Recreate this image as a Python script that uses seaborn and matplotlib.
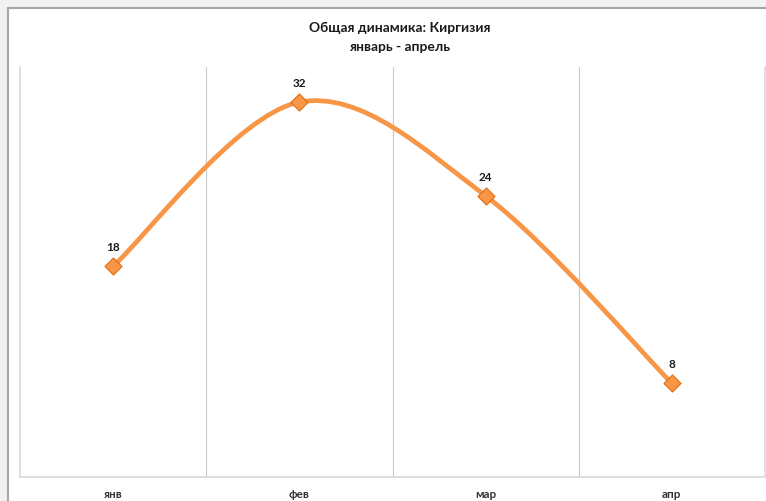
import matplotlib
matplotlib.use("Agg")
import matplotlib.pyplot as plt
import pandas as pd
import seaborn as sns
from matplotlib.path import Path
from matplotlib.patches import PathPatch, Rectangle

# данные с графика
months = ["янв", "фев", "мар", "апр"]
values = [18, 32, 24, 8]
title_lines = ["Общая динамика: Киргизия", "январь - апрель"]

orange = "#f79646"
orange_dark = "#e46c0a"

sns.set_theme(style="white")
plt.rcParams["font.family"] = ["Lato", "DejaVu Sans"]

df = pd.DataFrame({"month": months, "value": values})

fig = plt.figure(figsize=(7.66, 5.02), dpi=100, facecolor="#f2f2f2")
# рамка области диаграммы (как в Excel)
fig.patches.append(
    Rectangle((8 / 766, -0.05), 1.1, 1.05 - 9 / 502, transform=fig.transFigure,
              facecolor="white", edgecolor="#a6a6a6", linewidth=1.5, zorder=-5)
)

ax = fig.add_axes([20 / 766, 1 - 478 / 502, 745 / 766, (478 - 68) / 502])
ax.set_facecolor("white")

# сглаженная линия (кривые Безье через точки, как "сглаженная линия" в Excel)
pts = list(enumerate(values))
ext = [pts[0]] + pts + [pts[-1]]
verts = [pts[0]]
codes = [Path.MOVETO]
for i in range(1, len(ext) - 2):
    p0, p1, p2, p3 = ext[i - 1], ext[i], ext[i + 1], ext[i + 2]
    c1 = (p1[0] + (p2[0] - p0[0]) / 6, p1[1] + (p2[1] - p0[1]) / 6)
    c2 = (p2[0] - (p3[0] - p1[0]) / 6, p2[1] - (p3[1] - p1[1]) / 6)
    verts += [c1, c2, p2]
    codes += [Path.CURVE4] * 3
ax.add_patch(PathPatch(Path(verts, codes), facecolor="none", edgecolor=orange,
                       linewidth=3.4, capstyle="round", zorder=3))

sns.scatterplot(data=df, x="month", y="value", marker="D", s=75, color=orange,
                edgecolor=orange_dark, linewidth=0.8, zorder=4, ax=ax, legend=False)

for i, v in enumerate(values):
    ax.annotate(str(v), (i, v), xytext=(0, 14), textcoords="offset points",
                ha="center", va="center", fontsize=8.5, fontweight="bold", color="#1a1a1a")

# вертикальные линии между категориями
for x in [0.5, 1.5, 2.5]:
    ax.axvline(x, color="#c8c8c8", linewidth=0.8, zorder=1)

ax.set_xlim(-0.5, 3.5)
ax.set_ylim(0, 35)
ax.set_yticks([])
ax.set_xticks(range(len(months)))
ax.set_xticklabels(months, fontsize=8.5, color="#333333", fontweight="bold")
ax.tick_params(axis="x", length=0, pad=8)
ax.set_xlabel("")
ax.set_ylabel("")
for side in ["left", "bottom", "right"]:
    ax.spines[side].set_color("#d9d9d9")
    ax.spines[side].set_linewidth(1.2)
ax.spines["top"].set_visible(False)

fig.text(400 / 766, 1 - 28 / 502, title_lines[0], ha="center", va="center",
         fontsize=10, fontweight="bold", color="#1a1a1a")
fig.text(400 / 766, 1 - 47 / 502, title_lines[1], ha="center", va="center",
         fontsize=10, fontweight="bold", color="#1a1a1a")

fig.savefig("out.png", dpi=100, facecolor=fig.get_facecolor())
